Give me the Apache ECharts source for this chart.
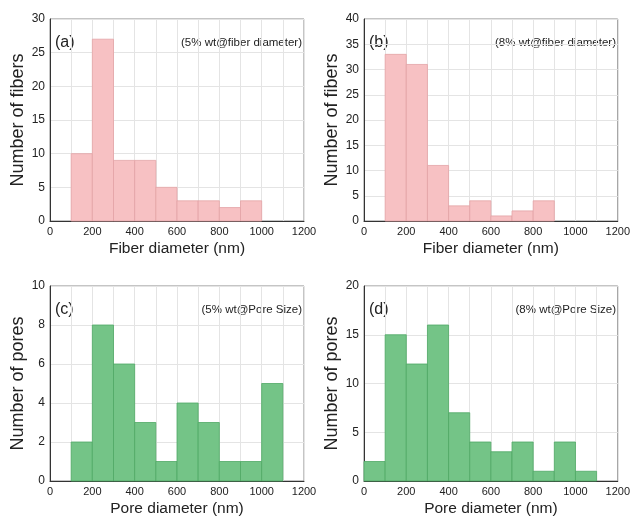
<!DOCTYPE html>
<html><head><meta charset="utf-8">
<script src="https://cdn.jsdelivr.net/npm/echarts@6/dist/echarts.min.js"></script>
<style>html,body{margin:0;padding:0;background:#fff}#c{width:633px;height:519px}</style>
</head><body><div id="c"></div>
<script>
// Histogram data (bin start in nm, bin width 100 nm)
const binStartA = [100,200,300,400,500,600,700,800,900];
const countsA   = [10,27,9,9,5,3,3,2,3];
const binStartB = [100,200,300,400,500,600,700,800];
const countsB   = [33,31,11,3,4,1,2,4];
const binStartC = [100,200,300,400,500,600,700,800,900,1000];
const countsC   = [2,8,6,3,1,4,3,1,1,5];
const binStartD = [0,100,200,300,400,500,600,700,800,900,1000];
const countsD   = [2,15,12,16,7,4,3,4,1,4,1];
const binWidth = 100;

const panelLabels = ['(a)','(b)','(c)','(d)'];
const panelNotes = ['(5% wt@fiber diameter)','(8% wt@fiber diameter)','(5% wt@Pore Size)','(8% wt@Pore Size)'];
const xNames = ['Fiber diameter (nm)','Fiber diameter (nm)','Pore diameter (nm)','Pore diameter (nm)'];
const yNames = ['Number of fibers','Number of fibers','Number of pores','Number of pores'];
const yMax = [30,40,10,20];
const yInt = [5,5,2,5];

const FONT = "'Liberation Sans',Arial,Helvetica,sans-serif";
const grids = [
  {left:50, top:19, width:254, height:202},
  {left:364, top:19, width:254, height:202},
  {left:50, top:286, width:254, height:195},
  {left:364, top:286, width:254, height:195}
];
const series = [
  [binStartA,countsA,'#f7c1c3','#e3a3a6'],
  [binStartB,countsB,'#f7c1c3','#e3a3a6'],
  [binStartC,countsC,'#74c487','#4fa864'],
  [binStartD,countsD,'#74c487','#4fa864']
];

const chart = echarts.init(document.getElementById('c'), null, {renderer:'canvas'});
const opt = {
  animation:false,
  backgroundColor:'#fff',
  grid: grids.map(g => Object.assign({show:true, borderColor:'#8a8a8a', borderWidth:1, backgroundColor:'transparent'}, g)),
  xAxis: grids.map((g,i) => ({
    type:'value', gridIndex:i, min:0, max:1200, interval:200,
    name:xNames[i], nameLocation:'middle', nameGap:20,
    nameTextStyle:{fontFamily:FONT, fontSize:15.5, color:'#222'},
    axisLine:{show:true, onZero:false, lineStyle:{color:'#333', width:1}},
    axisTick:{show:false},
    axisLabel:{fontFamily:FONT, fontSize:11, color:'#222', margin:5, formatter: v => String(v)},
    splitLine:{show:true, lineStyle:{color:'#e4e4e4', width:1}},
    minorTick:{show:false, splitNumber:2},
    minorSplitLine:{show:true, lineStyle:{color:'#e4e4e4', width:1}}
  })),
  yAxis: grids.map((g,i) => ({
    type:'value', gridIndex:i, min:0, max:yMax[i], interval:yInt[i],
    name:yNames[i], nameLocation:'middle', nameGap:23,
    nameTextStyle:{fontFamily:FONT, fontSize:18, color:'#222'},
    axisLine:{show:true, lineStyle:{color:'#333', width:1}},
    axisTick:{show:false},
    axisLabel:{fontFamily:FONT, fontSize:12, color:'#222', margin:5, formatter: v => String(v)},
    splitLine:{show:true, lineStyle:{color:'#e4e4e4', width:1}}
  })),
  series: series.map((s,i) => ({
    type:'custom', xAxisIndex:i, yAxisIndex:i,
    data: s[0].map((x,k) => [x, s[1][k]]),
    renderItem: function(params, api){
      const x0 = api.value(0), v = api.value(1);
      const p1 = api.coord([x0, v]);
      const p2 = api.coord([x0 + binWidth, 0]);
      return {type:'rect', shape:{x:p1[0], y:p1[1], width:p2[0]-p1[0], height:p2[1]-p1[1]},
        style:{fill:s[2], stroke:s[3], lineWidth:0.8}};
    }
  })),
  graphic: [].concat(
    grids.map((g,i) => ({type:'text', left:g.left+5, top:g.top+16,
      style:{text:panelLabels[i], font:'16px '+FONT, fill:'#222'}})),
    grids.map((g,i) => ({type:'text', right:633-(g.left+g.width)+2, top:g.top+18,
      style:{text:panelNotes[i], font:'11.5px '+FONT, fill:'#222'}}))
  )
};
chart.setOption(opt);
</script></body></html>
